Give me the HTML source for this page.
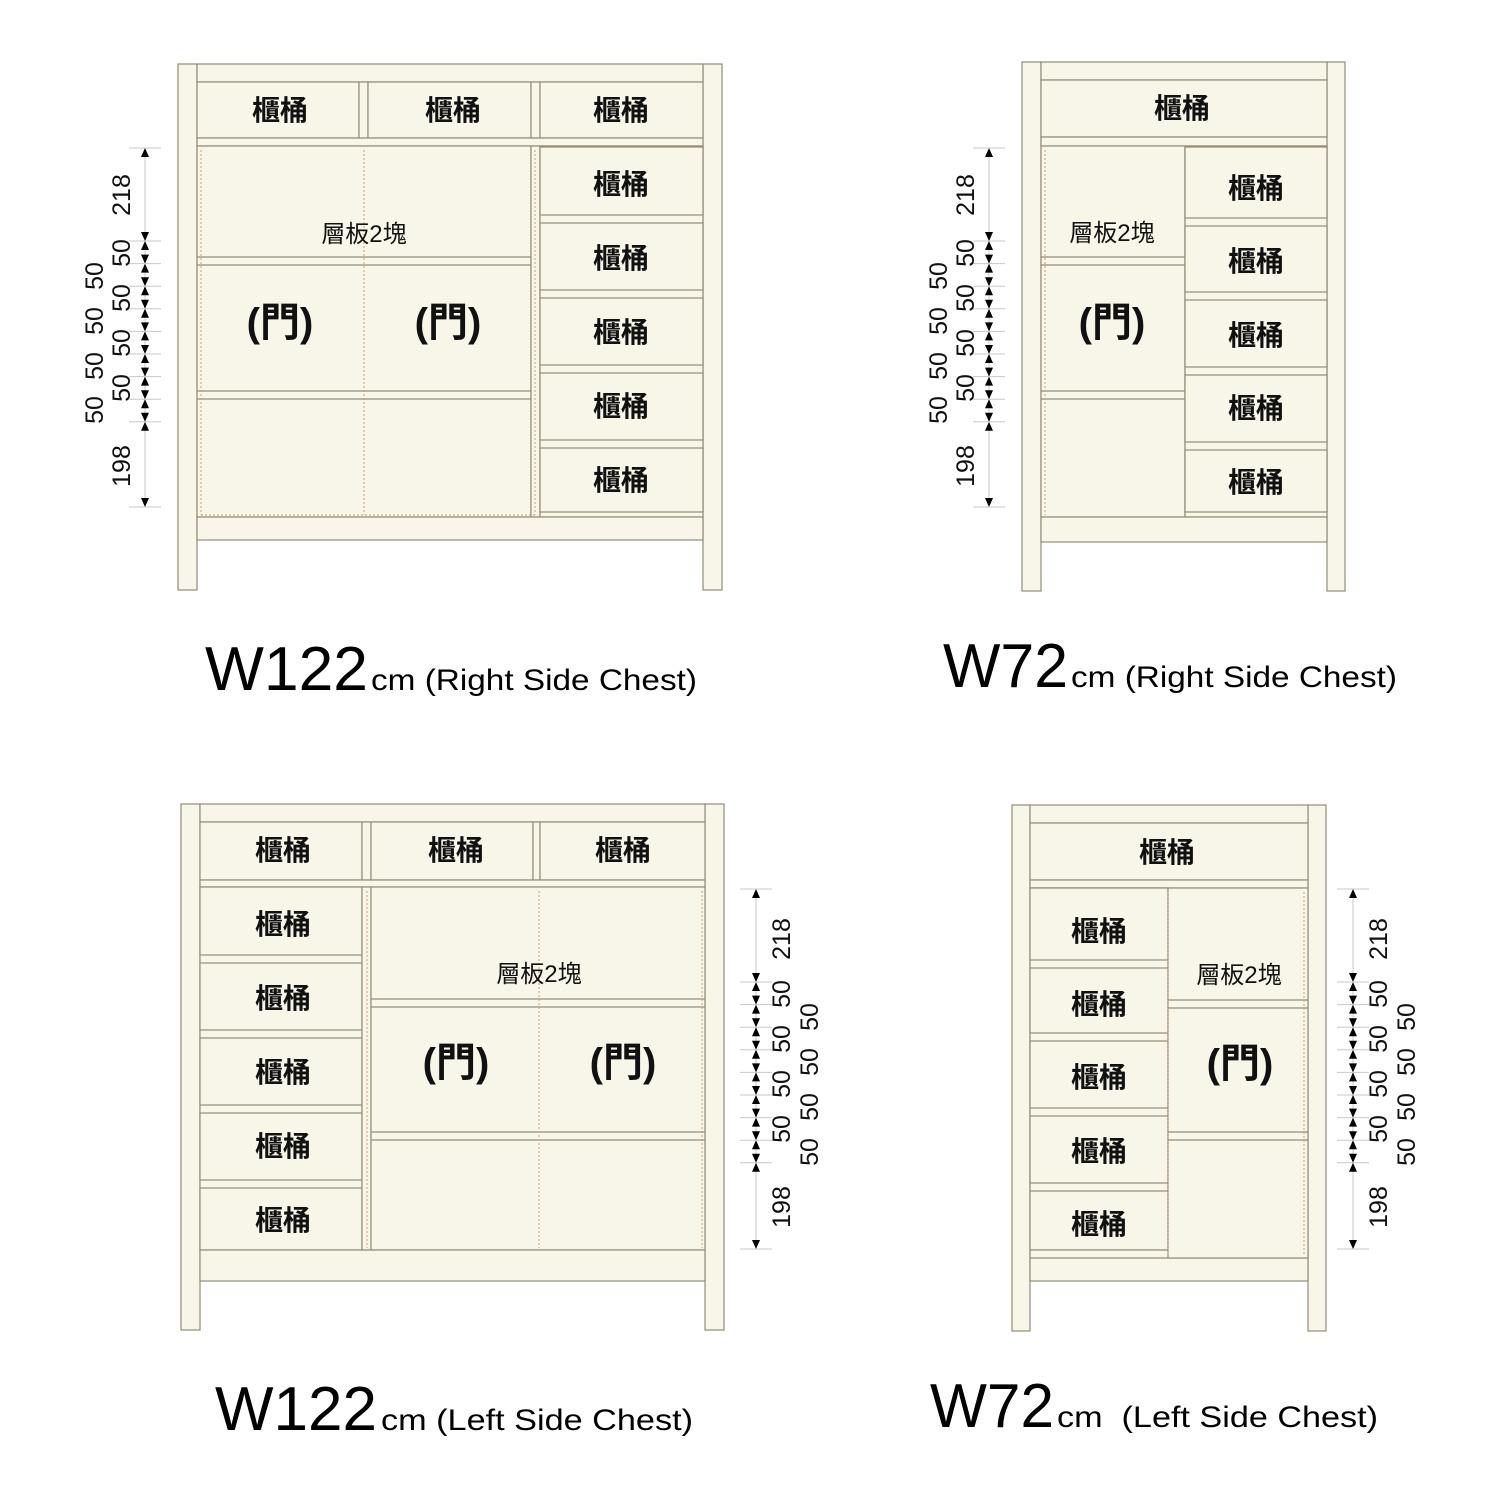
<!DOCTYPE html>
<html><head><meta charset="utf-8"><style>
html,body{margin:0;padding:0;background:#fff}
svg{display:block}
.f{fill:#f8f6e8;stroke:#958b78;stroke-width:1.2}
.l{stroke:#958b78;stroke-width:1.2}
.d{stroke:#c8a070;stroke-width:1;stroke-dasharray:2 2}
.dl{stroke:#c8c8c8;stroke-width:1}
.k{font-family:"Liberation Sans","Noto Sans CJK TC",sans-serif;font-weight:bold;font-size:28px;fill:#111;text-anchor:middle}
.s{font-family:"Liberation Sans","Noto Sans CJK TC",sans-serif;font-size:24px;fill:#111;text-anchor:middle}
.m{font-family:"Liberation Sans","Noto Sans CJK TC",sans-serif;font-weight:bold;font-size:40px;fill:#111;text-anchor:middle}
.n{font-family:"Liberation Sans",sans-serif;font-size:25px;fill:#111;text-anchor:middle}
.t{font-family:"Liberation Sans",sans-serif;font-size:62px;fill:#000}
.c{font-family:"Liberation Sans",sans-serif;font-size:30px;fill:#000}
</style></head><body>
<svg width="1501" height="1501" viewBox="0 0 1501 1501" xmlns="http://www.w3.org/2000/svg">
<defs>
<g id="bt"><polygon points="-4,-9 4,-9 0,0" fill="#000"/><polygon points="0,0 -4,9 4,9" fill="#000"/><line x1="-16" y1="0" x2="16" y2="0" class="dl"/></g>
<g id="up"><polygon points="0,0 -4,9 4,9" fill="#000"/><line x1="-16" y1="0" x2="16" y2="0" class="dl"/></g>
<g id="dn"><polygon points="0,0 -4,-9 4,-9" fill="#000"/><line x1="-16" y1="0" x2="16" y2="0" class="dl"/></g>
</defs>

<!-- ===== Top-left W122 Right ===== -->
<rect class="f" x="178" y="64" width="19" height="526"/>
<rect class="f" x="703" y="64" width="19" height="526"/>
<rect class="f" x="197" y="64" width="506" height="18"/>
<rect class="f" x="197" y="82" width="162" height="56"/>
<rect class="f" x="359" y="82" width="9" height="56"/>
<rect class="f" x="368" y="82" width="163" height="56"/>
<rect class="f" x="531" y="82" width="9" height="56"/>
<rect class="f" x="540" y="82" width="163" height="56"/>
<rect class="f" x="197" y="138" width="506" height="8"/>
<rect class="f" x="197" y="146" width="334" height="371"/>
<line class="l" x1="197" y1="257" x2="531" y2="257"/><line class="l" x1="197" y1="265" x2="531" y2="265"/>
<line class="l" x1="197" y1="391" x2="531" y2="391"/><line class="l" x1="197" y1="399" x2="531" y2="399"/>
<rect class="f" x="531" y="146" width="9" height="371"/>
<line class="d" x1="201" y1="150" x2="201" y2="515"/><line class="d" x1="364" y1="150" x2="364" y2="515"/><line class="d" x1="535" y1="150" x2="535" y2="515"/>
<line class="d" x1="201" y1="515" x2="535" y2="515"/>
<rect class="f" x="540" y="146" width="163" height="371"/>
<rect class="f" x="540" y="147" width="163" height="68"/>
<rect class="f" x="540" y="223" width="163" height="67"/>
<rect class="f" x="540" y="298" width="163" height="67"/>
<rect class="f" x="540" y="373" width="163" height="67"/>
<rect class="f" x="540" y="448" width="163" height="64"/>
<rect class="f" x="197" y="517" width="506" height="23"/>
<text class="k" x="280" y="120">櫃桶</text><text class="k" x="453" y="120">櫃桶</text><text class="k" x="621" y="120">櫃桶</text>
<text class="k" x="621" y="194">櫃桶</text><text class="k" x="621" y="268">櫃桶</text><text class="k" x="621" y="342">櫃桶</text><text class="k" x="621" y="416">櫃桶</text><text class="k" x="621" y="490">櫃桶</text>
<text class="s" x="364" y="242">層板2塊</text>
<text class="m" x="280" y="336">(門)</text><text class="m" x="448" y="336">(門)</text>
<line class="dl" x1="145" y1="148" x2="145" y2="507"/>
<use href="#up" x="145" y="148"/><use href="#dn" x="145" y="507"/>
<use href="#bt" x="145" y="241"/><use href="#bt" x="145" y="263.6"/><use href="#bt" x="145" y="286.2"/><use href="#bt" x="145" y="308.8"/><use href="#bt" x="145" y="331.4"/><use href="#bt" x="145" y="354"/><use href="#bt" x="145" y="376.6"/><use href="#bt" x="145" y="399.2"/><use href="#bt" x="145" y="421.8"/>
<text class="n" transform="translate(130,195) rotate(-90)">218</text>
<text class="n" transform="translate(130,466) rotate(-90)">198</text>
<text class="n" transform="translate(130,253) rotate(-90)">50</text>
<text class="n" transform="translate(130,298) rotate(-90)">50</text>
<text class="n" transform="translate(130,343) rotate(-90)">50</text>
<text class="n" transform="translate(130,388) rotate(-90)">50</text>
<text class="n" transform="translate(103,276) rotate(-90)">50</text>
<text class="n" transform="translate(103,321) rotate(-90)">50</text>
<text class="n" transform="translate(103,366) rotate(-90)">50</text>
<text class="n" transform="translate(103,410) rotate(-90)">50</text>
<text class="t" x="205" y="690" textLength="163" lengthAdjust="spacingAndGlyphs">W122</text>
<text class="c" x="371" y="690" textLength="326" lengthAdjust="spacingAndGlyphs">cm (Right Side Chest)</text>

<!-- ===== Top-right W72 Right ===== -->
<rect class="f" x="1022" y="62" width="19" height="529"/>
<rect class="f" x="1327" y="62" width="18" height="529"/>
<rect class="f" x="1041" y="62" width="286" height="18"/>
<rect class="f" x="1041" y="80" width="286" height="57"/>
<rect class="f" x="1041" y="137" width="286" height="9"/>
<rect class="f" x="1041" y="146" width="144" height="371"/>
<line class="l" x1="1041" y1="257" x2="1185" y2="257"/><line class="l" x1="1041" y1="265" x2="1185" y2="265"/>
<line class="l" x1="1041" y1="391" x2="1185" y2="391"/><line class="l" x1="1041" y1="399" x2="1185" y2="399"/>
<line class="d" x1="1045" y1="150" x2="1045" y2="515"/><line class="d" x1="1185" y1="150" x2="1185" y2="515"/>
<rect class="f" x="1185" y="146" width="142" height="371"/>
<rect class="f" x="1185" y="147" width="142" height="71"/>
<rect class="f" x="1185" y="226" width="142" height="66"/>
<rect class="f" x="1185" y="300" width="142" height="67"/>
<rect class="f" x="1185" y="375" width="142" height="67"/>
<rect class="f" x="1185" y="450" width="142" height="62"/>
<rect class="f" x="1041" y="517" width="286" height="25"/>
<text class="k" x="1182" y="118">櫃桶</text>
<text class="k" x="1256" y="198">櫃桶</text><text class="k" x="1256" y="271">櫃桶</text><text class="k" x="1256" y="345">櫃桶</text><text class="k" x="1256" y="418">櫃桶</text><text class="k" x="1256" y="492">櫃桶</text>
<text class="s" x="1112" y="241">層板2塊</text>
<text class="m" x="1112" y="336">(門)</text>
<line class="dl" x1="989" y1="148" x2="989" y2="507"/>
<use href="#up" x="989" y="148"/><use href="#dn" x="989" y="507"/>
<use href="#bt" x="989" y="241"/><use href="#bt" x="989" y="263.6"/><use href="#bt" x="989" y="286.2"/><use href="#bt" x="989" y="308.8"/><use href="#bt" x="989" y="331.4"/><use href="#bt" x="989" y="354"/><use href="#bt" x="989" y="376.6"/><use href="#bt" x="989" y="399.2"/><use href="#bt" x="989" y="421.8"/>
<text class="n" transform="translate(974,195) rotate(-90)">218</text>
<text class="n" transform="translate(974,466) rotate(-90)">198</text>
<text class="n" transform="translate(974,253) rotate(-90)">50</text>
<text class="n" transform="translate(974,298) rotate(-90)">50</text>
<text class="n" transform="translate(974,343) rotate(-90)">50</text>
<text class="n" transform="translate(974,388) rotate(-90)">50</text>
<text class="n" transform="translate(947,276) rotate(-90)">50</text>
<text class="n" transform="translate(947,321) rotate(-90)">50</text>
<text class="n" transform="translate(947,366) rotate(-90)">50</text>
<text class="n" transform="translate(947,410) rotate(-90)">50</text>
<text class="t" x="943" y="687" textLength="125" lengthAdjust="spacingAndGlyphs">W72</text>
<text class="c" x="1071" y="687" textLength="326" lengthAdjust="spacingAndGlyphs">cm (Right Side Chest)</text>

<!-- ===== Bottom-left W122 Left ===== -->
<rect class="f" x="181" y="804" width="19" height="526"/>
<rect class="f" x="705" y="804" width="19" height="526"/>
<rect class="f" x="200" y="804" width="505" height="18"/>
<rect class="f" x="200" y="822" width="162" height="58"/>
<rect class="f" x="362" y="822" width="9" height="58"/>
<rect class="f" x="371" y="822" width="162" height="58"/>
<rect class="f" x="533" y="822" width="7" height="58"/>
<rect class="f" x="540" y="822" width="165" height="58"/>
<rect class="f" x="200" y="880" width="505" height="7"/>
<rect class="f" x="200" y="887" width="162" height="363"/>
<rect class="f" x="200" y="887" width="162" height="68"/>
<rect class="f" x="200" y="963" width="162" height="67"/>
<rect class="f" x="200" y="1038" width="162" height="67"/>
<rect class="f" x="200" y="1113" width="162" height="67"/>
<rect class="f" x="200" y="1188" width="162" height="62"/>
<rect class="f" x="362" y="887" width="9" height="363"/>
<rect class="f" x="371" y="887" width="334" height="363"/>
<line class="l" x1="371" y1="999" x2="705" y2="999"/><line class="l" x1="371" y1="1007" x2="705" y2="1007"/>
<line class="l" x1="371" y1="1132" x2="705" y2="1132"/><line class="l" x1="371" y1="1140" x2="705" y2="1140"/>
<line class="d" x1="367" y1="891" x2="367" y2="1248"/><line class="d" x1="539" y1="891" x2="539" y2="1248"/><line class="d" x1="702" y1="891" x2="702" y2="1248"/>
<rect class="f" x="200" y="1250" width="505" height="31"/>
<text class="k" x="283" y="860">櫃桶</text><text class="k" x="456" y="860">櫃桶</text><text class="k" x="623" y="860">櫃桶</text>
<text class="k" x="283" y="934">櫃桶</text><text class="k" x="283" y="1008">櫃桶</text><text class="k" x="283" y="1082">櫃桶</text><text class="k" x="283" y="1156">櫃桶</text><text class="k" x="283" y="1230">櫃桶</text>
<text class="s" x="539" y="982">層板2塊</text>
<text class="m" x="456" y="1076">(門)</text><text class="m" x="623" y="1076">(門)</text>
<line class="dl" x1="756" y1="889" x2="756" y2="1249"/>
<use href="#up" x="756" y="889"/><use href="#dn" x="756" y="1249"/>
<use href="#bt" x="756" y="982"/><use href="#bt" x="756" y="1004.6"/><use href="#bt" x="756" y="1027.2"/><use href="#bt" x="756" y="1049.8"/><use href="#bt" x="756" y="1072.4"/><use href="#bt" x="756" y="1095"/><use href="#bt" x="756" y="1117.6"/><use href="#bt" x="756" y="1140.2"/><use href="#bt" x="756" y="1162.8"/>
<text class="n" transform="translate(790,939) rotate(-90)">218</text>
<text class="n" transform="translate(790,1207) rotate(-90)">198</text>
<text class="n" transform="translate(790,994) rotate(-90)">50</text>
<text class="n" transform="translate(790,1039) rotate(-90)">50</text>
<text class="n" transform="translate(790,1084) rotate(-90)">50</text>
<text class="n" transform="translate(790,1129) rotate(-90)">50</text>
<text class="n" transform="translate(818,1017) rotate(-90)">50</text>
<text class="n" transform="translate(818,1062) rotate(-90)">50</text>
<text class="n" transform="translate(818,1107) rotate(-90)">50</text>
<text class="n" transform="translate(818,1152) rotate(-90)">50</text>
<text class="t" x="215" y="1430" textLength="162" lengthAdjust="spacingAndGlyphs">W122</text>
<text class="c" x="381" y="1430" textLength="312" lengthAdjust="spacingAndGlyphs">cm (Left Side Chest)</text>

<!-- ===== Bottom-right W72 Left ===== -->
<rect class="f" x="1012" y="805" width="18" height="526"/>
<rect class="f" x="1308" y="805" width="18" height="526"/>
<rect class="f" x="1030" y="805" width="278" height="18"/>
<rect class="f" x="1030" y="823" width="278" height="57"/>
<rect class="f" x="1030" y="880" width="278" height="8"/>
<rect class="f" x="1030" y="888" width="138" height="362"/>
<rect class="f" x="1030" y="888" width="138" height="72"/>
<rect class="f" x="1030" y="968" width="138" height="65"/>
<rect class="f" x="1030" y="1041" width="138" height="67"/>
<rect class="f" x="1030" y="1116" width="138" height="67"/>
<rect class="f" x="1030" y="1191" width="138" height="59"/>
<rect class="f" x="1030" y="1250" width="278" height="31"/>
<line class="l" x1="1030" y1="1258" x2="1308" y2="1258"/>
<rect class="f" x="1168" y="888" width="140" height="370"/>
<line class="l" x1="1168" y1="1000" x2="1308" y2="1000"/><line class="l" x1="1168" y1="1008" x2="1308" y2="1008"/>
<line class="l" x1="1168" y1="1132" x2="1308" y2="1132"/><line class="l" x1="1168" y1="1140" x2="1308" y2="1140"/>
<line class="d" x1="1168" y1="892" x2="1168" y2="1256"/><line class="d" x1="1304" y1="892" x2="1304" y2="1256"/>
<text class="k" x="1167" y="862">櫃桶</text>
<text class="k" x="1099" y="941">櫃桶</text><text class="k" x="1099" y="1014">櫃桶</text><text class="k" x="1099" y="1087">櫃桶</text><text class="k" x="1099" y="1161">櫃桶</text><text class="k" x="1099" y="1234">櫃桶</text>
<text class="s" x="1239" y="983">層板2塊</text>
<text class="m" x="1240" y="1077">(門)</text>
<line class="dl" x1="1353" y1="889" x2="1353" y2="1249"/>
<use href="#up" x="1353" y="889"/><use href="#dn" x="1353" y="1249"/>
<use href="#bt" x="1353" y="982"/><use href="#bt" x="1353" y="1004.6"/><use href="#bt" x="1353" y="1027.2"/><use href="#bt" x="1353" y="1049.8"/><use href="#bt" x="1353" y="1072.4"/><use href="#bt" x="1353" y="1095"/><use href="#bt" x="1353" y="1117.6"/><use href="#bt" x="1353" y="1140.2"/><use href="#bt" x="1353" y="1162.8"/>
<text class="n" transform="translate(1387,939) rotate(-90)">218</text>
<text class="n" transform="translate(1387,1207) rotate(-90)">198</text>
<text class="n" transform="translate(1387,994) rotate(-90)">50</text>
<text class="n" transform="translate(1387,1039) rotate(-90)">50</text>
<text class="n" transform="translate(1387,1084) rotate(-90)">50</text>
<text class="n" transform="translate(1387,1129) rotate(-90)">50</text>
<text class="n" transform="translate(1415,1017) rotate(-90)">50</text>
<text class="n" transform="translate(1415,1062) rotate(-90)">50</text>
<text class="n" transform="translate(1415,1107) rotate(-90)">50</text>
<text class="n" transform="translate(1415,1152) rotate(-90)">50</text>
<text class="t" x="930" y="1427" textLength="124" lengthAdjust="spacingAndGlyphs">W72</text>
<text class="c" x="1057" y="1427" textLength="321" lengthAdjust="spacingAndGlyphs" xml:space="preserve">cm  (Left Side Chest)</text>
</svg>
</body></html>
